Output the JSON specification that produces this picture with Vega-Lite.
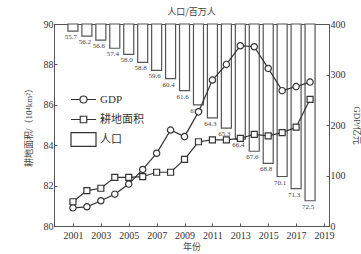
{
  "$schema": "https://vega.github.io/schema/vega-lite/v6.json",
  "width": 275,
  "height": 202,
  "autosize": "none",
  "padding": {"left": 54, "top": 24, "right": 32, "bottom": 28},
  "background": "white",
  "title": {"text": "人口/百万人", "font": "Noto Sans CJK SC", "fontSize": 9, "fontWeight": "normal", "color": "#444", "offset": 2},
  "config": {
    "view": {"stroke": "#555", "strokeWidth": 1},
    "axis": {"labelFont": "Liberation Serif", "labelFontSize": 10, "labelColor": "#333", "titleFont": "Liberation Serif, Noto Sans CJK SC", "titleFontSize": 9, "titleFontWeight": "normal", "titleColor": "#444", "domainColor": "#555", "tickColor": "#555", "grid": false},
    "legend": {"labelFont": "Liberation Serif, Noto Sans CJK SC", "labelFontSize": 11, "labelColor": "#333"}
  },
  "data": {"values": [
    {"year": 2001, "pop": 55.7, "gdp": 36, "land": 81.2},
    {"year": 2002, "pop": 56.2, "gdp": 38, "land": 81.75},
    {"year": 2003, "pop": 56.6, "gdp": 50, "land": 81.87},
    {"year": 2004, "pop": 57.4, "gdp": 63, "land": 82.41},
    {"year": 2005, "pop": 58.0, "gdp": 83, "land": 82.41},
    {"year": 2006, "pop": 58.8, "gdp": 112, "land": 82.44},
    {"year": 2007, "pop": 59.6, "gdp": 144, "land": 82.66},
    {"year": 2008, "pop": 60.4, "gdp": 190, "land": 82.66},
    {"year": 2009, "pop": 61.6, "gdp": 177, "land": 83.3},
    {"year": 2010, "pop": 63.0, "gdp": 226, "land": 84.17},
    {"year": 2011, "pop": 64.3, "gdp": 289, "land": 84.26},
    {"year": 2012, "pop": 65.3, "gdp": 320, "land": 84.26},
    {"year": 2013, "pop": 66.4, "gdp": 357, "land": 84.34},
    {"year": 2014, "pop": 67.6, "gdp": 355, "land": 84.54},
    {"year": 2015, "pop": 68.8, "gdp": 312, "land": 84.46},
    {"year": 2016, "pop": 70.1, "gdp": 268, "land": 84.62},
    {"year": 2017, "pop": 71.3, "gdp": 276, "land": 84.89},
    {"year": 2018, "pop": 72.5, "gdp": 285, "land": 86.27}
  ]},
  "encoding": {
    "x": {"field": "year", "type": "quantitative",
      "scale": {"domain": [2000, 2019], "nice": false, "zero": false},
      "axis": {"values": [2001, 2003, 2005, 2007, 2009, 2011, 2013, 2015, 2017, 2019], "format": "d", "title": "年份", "titleFont": "Noto Sans CJK SC", "tickSize": -3, "labelPadding": 7, "titlePadding": 2, "labelFlush": false}}
  },
  "layer": [
    {
      "mark": {"type": "bar", "size": 10, "fill": "white", "stroke": "#555", "strokeWidth": 1.2},
      "encoding": {
        "y": {"field": "pop", "type": "quantitative", "scale": {"domain": [55, 75], "reverse": true, "nice": false, "zero": false}, "axis": null},
        "y2": {"datum": 55}
      }
    },
    {
      "mark": {"type": "text", "font": "Liberation Serif", "fontSize": 7, "color": "#444", "baseline": "top", "dy": 2, "dx": -2},
      "encoding": {
        "y": {"field": "pop", "type": "quantitative", "scale": {"domain": [55, 75], "reverse": true, "nice": false, "zero": false}, "axis": null},
        "text": {"field": "pop", "type": "quantitative", "format": ".1f"}
      }
    },
    {
      "mark": {"type": "line", "color": "#333", "strokeWidth": 1.2, "point": {"filled": true, "fill": "white", "stroke": "#333", "strokeWidth": 1.2, "shape": "circle", "size": 40}},
      "encoding": {
        "y": {"field": "gdp", "type": "quantitative", "scale": {"domain": [0, 400], "nice": false},
          "axis": {"orient": "right", "values": [0, 100, 200, 300, 400], "title": "GDP/亿元", "tickSize": -3, "labelPadding": 4, "titlePadding": 6}}
      }
    },
    {
      "mark": {"type": "line", "color": "#333", "strokeWidth": 1.2, "point": {"filled": true, "fill": "white", "stroke": "#333", "strokeWidth": 1.2, "shape": "square", "size": 36}},
      "encoding": {
        "y": {"field": "land", "type": "quantitative", "scale": {"domain": [80, 90], "nice": false, "zero": false},
          "axis": {"orient": "left", "values": [80, 82, 84, 86, 88, 90], "title": "耕地面积/（10⁴km²）", "tickSize": -3, "labelPadding": 4, "titlePadding": 10}}
      }
    },
    {
      "data": {"values": [{"series": "GDP"}, {"series": "耕地面积"}, {"series": "人口"}]},
      "mark": {"type": "point", "opacity": 0, "color": "#333", "filled": false, "strokeWidth": 1.2},
      "encoding": {
        "shape": {"field": "series", "type": "nominal",
          "scale": {"domain": ["GDP", "耕地面积", "人口"], "range": [
            "M-1,0 H-0.28 M0.28,0 H1 M-0.28,0 A0.28,0.28 0 1,1 0.28,0 A0.28,0.28 0 1,1 -0.28,0 Z",
            "M-1,0 H-0.26 M0.26,0 H1 M-0.26,-0.26 H0.26 V0.26 H-0.26 Z",
            "M-1,-0.55 H1 V0.55 H-1 Z"
          ]},
          "legend": {"orient": "none", "legendX": 16, "legendY": 62, "title": null, "symbolSize": 625, "symbolOpacity": 1, "symbolStrokeColor": "#333", "symbolFillColor": "white", "symbolStrokeWidth": 1.2, "labelOffset": 3, "rowPadding": -6}
        }
      }
    }
  ],
  "resolve": {"scale": {"y": "independent", "shape": "independent"}}
}
